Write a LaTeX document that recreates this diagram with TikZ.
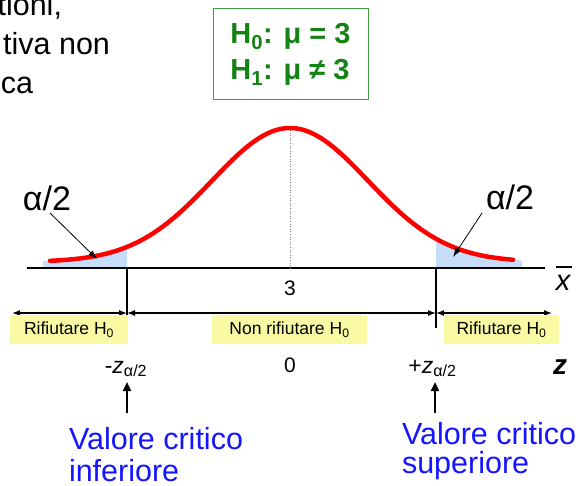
\documentclass[tikz,border=0pt]{standalone}
\usepackage{fontspec}
\setmainfont{Liberation Sans}
\usetikzlibrary{arrows.meta}
\definecolor{hgreen}{RGB}{20,130,20}
\definecolor{boxgreen}{RGB}{60,160,60}
\definecolor{tailblue}{RGB}{198,221,249}
\definecolor{lblyellow}{RGB}{250,250,165}
\definecolor{critblue}{RGB}{20,20,255}
\newcommand{\fs}[1]{\fontsize{#1}{#1}\selectfont}
\begin{document}
\begin{tikzpicture}[x=1pt,y=-1pt,
  every node/.style={inner sep=0pt, outer sep=0pt},
  ylabel/.style={fill=lblyellow, minimum height=29pt, font=\fs{17.5}},
  dimarrow/.style={{Latex[length=8pt,width=6pt]}-{Latex[length=8pt,width=6pt]}, line width=1.1pt},
  tick/.style={line width=1.5pt},
  pointer/.style={-{Latex[length=9pt,width=6pt]}, line width=0.8pt},
  uparrow/.style={-{Triangle[length=9pt,width=8pt]}, line width=2.2pt},
  toptext/.style={anchor=base east, font=\fs{30.5}},
  crit/.style={anchor=base west, align=left, text=critblue},
]
\useasboundingbox (0,0) rectangle (580,486);
% top-left text (cut at the left edge)
\node[toptext] (t1) at (62,16) {tioni,};
\node[toptext] (t2) at (110,55) {tiva non};
\node[toptext] (t3) at (33,94) {ca};
% hypotheses box
\node[draw=boxgreen, line width=1pt, minimum width=155pt, minimum height=91pt,
      align=left, text=hgreen, font=\bfseries\fontsize{29}{36}\selectfont] (hyp) at (290.5,54.5)
  {H\textsubscript{0}: μ = 3\\H\textsubscript{1}: μ ≠ 3};
% tails
\fill[tailblue] (43,268) -- plot[domain=43:127, samples=40] (\x,{262-134*exp(-0.5*((\x-290)/78)*((\x-290)/78))}) -- (127,268) -- cycle;
\fill[tailblue] (436,268) -- plot[domain=436:522, samples=40] (\x,{262-134*exp(-0.5*((\x-290)/78)*((\x-290)/78))}) -- (522,268) -- cycle;
% axis
\coordinate (axl) at (27,268);
\coordinate (axr) at (545,268);
\coordinate (peak) at (290,130);
\coordinate (mid) at (290,268);
\draw[line width=2pt] (axl) -- (axr);
\draw[gray, dotted, line width=0.6pt] (peak) -- (mid);
% curve
\draw[red, line width=4.5pt, line cap=round] plot[domain=50:513, samples=140] (\x,{262-134*exp(-0.5*((\x-290)/78)*((\x-290)/78))});
% critical ticks
\coordinate (cl) at (127,268);
\coordinate (cr) at (436,268);
\coordinate (clb) at (127,328);
\coordinate (crb) at (436,328);
\draw[tick] (cl) -- (clb);
\draw[tick] (cr) -- (crb);
% dimension arrows
\coordinate (dl) at (12,313);
\coordinate (dcl) at (127,313);
\coordinate (dcr) at (436,313);
\coordinate (dr) at (552,313);
\draw[dimarrow] (dl) -- (dcl);
\draw[dimarrow] (dcl) -- (dcr);
\draw[dimarrow] (dcr) -- (dr);
% region labels
\node[ylabel, minimum width=118pt] (rl) at (69,329.5) {Rifiutare H\textsubscript{0}};
\node[ylabel, minimum width=155pt] (nr) at (289.5,329.5) {Non rifiutare H\textsubscript{0}};
\node[ylabel, minimum width=115pt] (rr) at (501.5,329.5) {Rifiutare H\textsubscript{0}};
% alpha/2 labels
\node[font=\fs{34}] (al) at (47,198) {α/2};
\node[font=\fs{34}] (ar) at (510,197) {α/2};
\coordinate (als) at (50,213);
\coordinate (ars) at (482,213);
\coordinate (alt) at (97,259);
\coordinate (art) at (453,257);
\draw[pointer] (als) -- (alt);
\draw[pointer] (ars) -- (art);
% axis names
\node[font=\itshape\fs{29}] (xb) at (563,283) {x};
\draw[line width=1.2pt] (556,267) -- (572,267);
\node[font=\fs{21}] (three) at (290,288) {3};
\node[font=\fs{21}] (zero) at (290,365) {0};
\node[anchor=base, font=\fs{23}] (zl) at (126,373) {-\textit{z}\textsubscript{α/2}};
\node[anchor=base, font=\fs{23}] (zr) at (432.5,373) {+\textit{z}\textsubscript{α/2}};
\node[font=\bfseries\itshape\fs{28}] (zn) at (560,367) {z};
% critical value labels
\node[crit, font=\fontsize{30.5}{32}\selectfont] (vl) at (69,481) {Valore critico\\inferiore};
\node[crit, font=\fontsize{30.5}{29}\selectfont] (vr) at (402,473) {Valore critico\\superiore};
\coordinate (ul) at (127,413);
\coordinate (ult) at (127,382);
\coordinate (ur) at (435,413);
\coordinate (urt) at (435,382);
\draw[uparrow] (ul) -- (ult);
\draw[uparrow] (ur) -- (urt);
\end{tikzpicture}
\end{document}
